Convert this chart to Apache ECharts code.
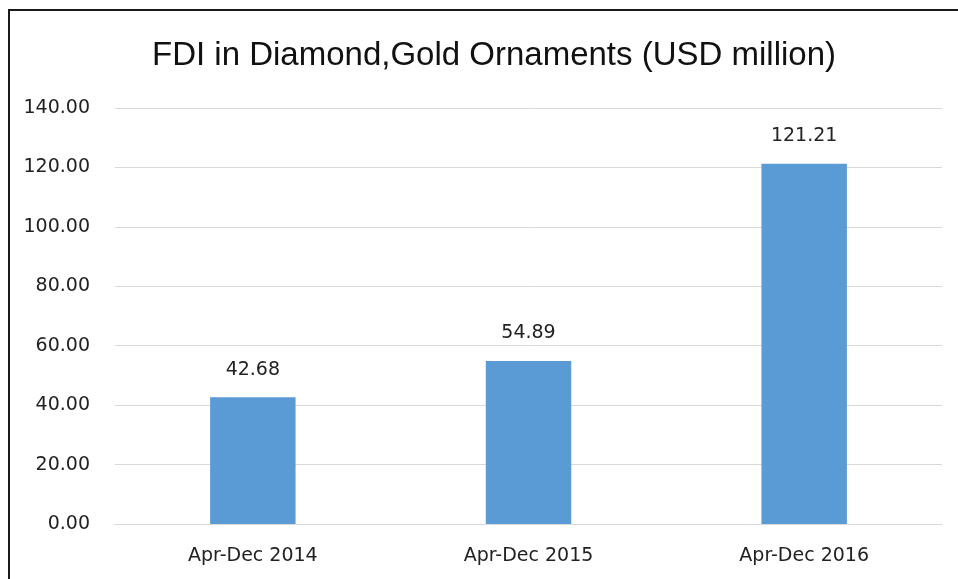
<!DOCTYPE html>
<html>
<head>
<meta charset="utf-8">
<script src="https://cdn.jsdelivr.net/npm/echarts@6/dist/echarts.min.js"></script>
<style>
  html, body { margin: 0; padding: 0; background: #fff; }
  #frame { position: absolute; left: 8px; top: 9px; right: -4px; bottom: -4px; border-left: 2px solid #1a1a1a; border-top: 2px solid #1a1a1a; }
  #chart { position: absolute; left: 0; top: 0; width: 958px; height: 579px; }
</style>
</head>
<body>
<div id="chart"></div>
<div id="frame"></div>
<script>
// FDI inflows into the diamond & gold ornaments sector, USD million
const categories = ['Apr-Dec 2014', 'Apr-Dec 2015', 'Apr-Dec 2016'];
const fdiValues = [42.68, 54.89, 121.21];
const yTicks = { min: 0, max: 140, interval: 20 };

const chart = echarts.init(document.getElementById('chart'), null, { renderer: 'canvas' });
chart.setOption({
  animation: false,
  backgroundColor: '#ffffff',
  title: {
    text: 'FDI in Diamond,Gold Ornaments (USD million)',
    left: 489,
    textAlign: 'center',
    top: 34,
    textStyle: { fontFamily: 'Liberation Sans', fontWeight: 'normal', fontSize: 33, color: '#111' }
  },
  grid: { left: 115, right: 16, top: 108, bottom: 55, containLabel: false },
  xAxis: {
    type: 'category',
    data: categories,
    axisLine: { show: true, lineStyle: { color: '#d9d9d9', width: 1 } },
    axisTick: { show: false },
    axisLabel: { fontFamily: 'DejaVu Sans', fontSize: 19, color: '#222', margin: 23 }
  },
  yAxis: {
    type: 'value',
    min: yTicks.min,
    max: yTicks.max,
    interval: yTicks.interval,
    axisLine: { show: false },
    axisTick: { show: false },
    splitLine: { lineStyle: { color: '#d9d9d9', width: 1 } },
    axisLabel: {
      fontFamily: 'DejaVu Sans', fontSize: 19, color: '#222', margin: 25,
      formatter: v => v.toFixed(2)
    }
  },
  series: [{
    type: 'bar',
    data: fdiValues,
    barWidth: '31%',
    itemStyle: { color: '#5b9bd5' },
    label: {
      show: true,
      position: 'top',
      distance: 18,
      fontFamily: 'DejaVu Sans', fontSize: 19, color: '#222',
      formatter: p => p.value.toFixed(2)
    }
  }]
});
</script>
</body>
</html>
